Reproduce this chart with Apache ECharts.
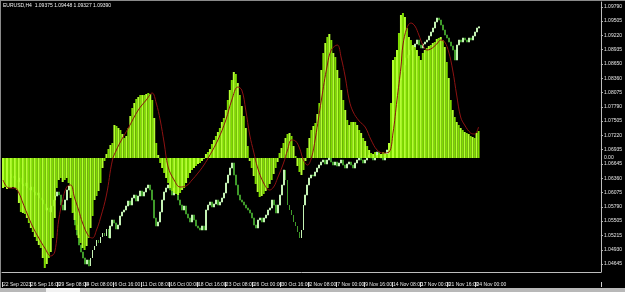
<!DOCTYPE html>
<html><head><meta charset="utf-8">
<script src="https://cdn.jsdelivr.net/npm/echarts@6/dist/echarts.min.js"></script>
<style>html,body{margin:0;padding:0;background:#000;overflow:hidden}#c{width:625px;height:292px;}</style>
</head><body><div id="c"></div>
<script>
// ---- data ----
const dateLabels = ['22 Sep 2023','26 Sep 16:00','29 Sep 08:00','4 Oct 08:00','6 Oct 16:00','11 Oct 08:00','16 Oct 00:00','18 Oct 16:00','23 Oct 08:00','26 Oct 00:00','30 Oct 16:00','2 Nov 08:00','7 Nov 00:00','9 Nov 16:00','14 Nov 08:00','17 Nov 00:00','21 Nov 16:00','24 Nov 00:00'];
const priceTicks = [1.09790,1.09505,1.09220,1.08935,1.08650,1.08360,1.08075,1.07790,1.07505,1.07220,1.06935,1.06645,1.06360,1.06075,1.05790,1.05505,1.05215,1.04930,1.04645];
const histValues = [-30,-29,-31,-30,-30,-29,-30,-32,-45,-54,-55,-56,-60,-65,-70,-74,-79,-83,-87,-90,-100,-110,-106,-100,-94,-80,-60,-30,-22,-20,-24,-22,-20,-25,-40,-55,-62,-72,-80,-85,-90,-92,-88,-80,-70,-58,-42,-38,-33,-25,-10,-3,
4,9,13,15,33,32,30,28,24,20,22,30,42,50,55,59,61,63,63,63,64,65,64,58,40,15,3,
-5,-10,-15,-20,-25,-30,-33,-35,-36,-37,-35,-32,-30,-25,-20,-15,-12,-10,-8,-6,-5,-3,-1,
4,6,9,14,18,22,26,30,36,40,48,58,68,78,86,84,75,63,52,42,30,12,-3,
-10,-18,-26,-34,-39,-38,-36,-33,-30,-26,-22,-16,-10,-4,
5,10,15,20,24,25,22,12,2,
-8,-14,-17,-12,-3,
10,20,28,32,35,44,55,88,105,115,121,124,118,105,101,88,80,68,58,48,38,33,36,36,36,33,28,25,20,17,12,8,
5,4,6,3,5,4,6,5,4,
15,55,98,101,108,125,143,145,141,130,121,118,113,111,108,102,98,105,108,110,112,113,115,116,119,120,121,118,111,96,80,58,48,41,36,33,30,28,26,25,24,22,21,20,25,27];
const signalBars = [0,3,6,8,10,12,15,18,21,24,26,28,30,32,34,36,38,40,43,45,47,49,52,55,57,59,63,68,72,75,77,79,81,83,86,89,92,95,98,101,104,108,112,115,118,120,122,124,126,128,131,134,136,138,141,143,145,147,149,151,153,155,157,160,163,165,168,170,172,174,176,179,182,185,188,191,194,196,198,200,201,203,205,207,209,211,213,215,218,220,222,224,226,228,230,232,235,237,239];
const signalValues = [-22,-30,-30,-35,-45,-55,-69,-80,-90,-98,-94,-62,-42,-29,-27,-40,-52,-65,-78,-80,-72,-60,-37,-2,8,16,30,48,58,65,55,38,15,-9,-22,-29,-28,-22,-15,-7,3,18,38,58,71,68,48,23,6,-10,-25,-32,-29,-20,-5,8,18,17,10,-2,-7,0,20,58,93,108,113,100,81,58,46,37,31,18,8,5,6,25,58,91,113,130,135,132,123,113,108,109,114,118,116,106,88,63,41,33,25,24,31];
const priceClose = [1.06485,1.06425,1.06525,1.06445,1.06365,1.06405,1.06325,1.06285,1.06365,1.06245,
1.06205,1.06265,1.06165,1.06125,1.06185,1.06085,1.06025,1.06065,1.05965,1.05925,
1.05845,1.05725,1.05765,1.05685,1.05805,1.05925,1.06005,1.06085,1.06025,1.05825,
1.05725,1.05925,1.06125,1.06205,1.06025,1.05685,1.05425,1.05225,1.05025,1.04885,
1.04765,1.04645,1.04725,1.04605,1.04765,1.04925,1.05005,1.05125,1.05065,1.05185,
1.05265,1.05205,1.05345,1.05165,1.05405,1.05525,1.05465,1.05345,1.05425,1.05605,
1.05685,1.05725,1.05805,1.05905,1.05825,1.05965,1.06025,1.05905,1.06005,1.06105,
1.06005,1.06085,1.06165,1.06225,1.06125,1.05925,1.05565,1.05405,1.05485,1.05685,
1.05925,1.06085,1.06165,1.06225,1.06125,1.06025,1.06165,1.06085,1.05925,1.05825,
1.05725,1.05805,1.05645,1.05565,1.05485,1.05625,1.05525,1.05405,1.05365,1.05325,
1.05405,1.05325,1.05725,1.05825,1.05885,1.05785,1.05845,1.05925,1.05825,1.05885,
1.05965,1.06065,1.06265,1.06425,1.06565,1.06665,1.06425,1.06225,1.06025,1.05925,
1.05885,1.05825,1.05765,1.05725,1.05665,1.05565,1.05425,1.05365,1.05525,1.05565,
1.05485,1.05565,1.05625,1.05725,1.05765,1.05925,1.05825,1.05665,1.05825,1.06025,
1.06225,1.06525,1.06325,1.05825,1.05725,1.05625,1.05485,1.05405,1.05285,1.05165,
1.05325,1.05825,1.06025,1.06225,1.06365,1.06425,1.06405,1.06485,1.06565,1.06625,
1.06685,1.06725,1.06645,1.06725,1.06765,1.06685,1.06625,1.06685,1.06605,1.06665,
1.06725,1.06625,1.06565,1.06645,1.06685,1.06625,1.06565,1.06665,1.06725,1.06765,
1.06725,1.06665,1.06725,1.06785,1.06825,1.06765,1.06725,1.06805,1.06885,1.06825,
1.06765,1.06725,1.06805,1.06925,1.07025,1.07325,1.07625,1.07925,1.08125,1.08325,
1.08485,1.08625,1.08765,1.08825,1.08925,1.09005,1.08965,1.09045,1.09125,1.09025,
1.08965,1.09045,1.09085,1.09125,1.09205,1.09285,1.09365,1.09485,1.09565,1.09525,
1.09425,1.09325,1.09225,1.09165,1.09085,1.09005,1.08925,1.08725,1.09025,1.09125,
1.09085,1.09165,1.09125,1.09085,1.09165,1.09125,1.09205,1.09285,1.09365,1.09390];
const firstOpen = 1.06470;
const priceMin = 1.04485, priceMax = 1.09885;
const oscMin = -114, oscMax = 156;
const slotCount = 301, labelEvery = 14;
const titleText = 'EURUSD,H4  1.09375 1.09448 1.09327 1.09390';

// ---- build ----
const cats = [];
for (let i = 0; i < slotCount; i++) {
  const k = i / labelEvery;
  cats.push(Number.isInteger(k) && k < dateLabels.length ? dateLabels[k] : '');
}
const histData = histValues.map((v, i) => ({value: v, itemStyle: {color: i % 2 ? '#7fdc00' : '#b4ff30'}}));
const candles = priceClose.map((c, i) => {
  const o = i === 0 ? firstOpen : priceClose[i - 1];
  return [o, c, Math.min(o, c), Math.max(o, c)];
});
const signalData = signalBars.map((b, i) => [b, signalValues[i]]);
const lastPrice = priceClose[priceClose.length - 1];
const FONT = 'Liberation Sans';
const tickFn = (idx) => cats[idx] !== '';

const chart = echarts.init(document.getElementById('c'), null, {renderer: 'canvas'});
chart.setOption({
  backgroundColor: '#000',
  animation: false,
  grid: {left: 2, right: 20, top: 2, bottom: 20, containLabel: false},
  xAxis: [{
    type: 'category', data: cats, boundaryGap: true,
    axisLine: {show: true, onZero: false, lineStyle: {color: '#bdbdbd', width: 1}},
    axisTick: {show: false},
    axisLabel: {interval: 0, color: '#e6e6e6', fontSize: 5, fontFamily: FONT, align: 'left', margin: 10}
  }, {
    type: 'category', data: cats, boundaryGap: true, position: 'bottom', offset: 10,
    axisLine: {show: false, onZero: false},
    axisTick: {show: true, interval: tickFn, length: 5, lineStyle: {color: '#cfcfcf'}},
    axisLabel: {show: false}
  }],
  yAxis: [{
    type: 'value', position: 'right', min: priceMin, max: priceMax, scale: true,
    splitLine: {show: false},
    axisLine: {show: true, onZero: false, lineStyle: {color: '#bdbdbd', width: 1}},
    axisTick: {show: true, length: 2, customValues: priceTicks, lineStyle: {color: '#bdbdbd'}},
    axisLabel: {customValues: priceTicks, formatter: v => v.toFixed(5), color: '#e6e6e6', fontSize: 5, fontFamily: FONT, margin: 3}
  }, {
    type: 'value', position: 'right', min: oscMin, max: oscMax,
    splitLine: {show: false}, axisLine: {show: false, onZero: false}, axisTick: {show: false},
    axisLabel: {customValues: [0], formatter: () => '0.00', color: '#e6e6e6', fontSize: 5, fontFamily: FONT, margin: 3}
  }],
  series: [{
    type: 'candlestick', xAxisIndex: 0, yAxisIndex: 0, data: candles, barWidth: 1.4, z: 1,
    itemStyle: {color: '#c4f2b4', color0: '#3f9a2a', borderColor: '#c4f2b4', borderColor0: '#3f9a2a', borderWidth: 1},
    markLine: {
      silent: true, symbol: 'none',
      lineStyle: {opacity: 0},
      label: {show: true, position: 'end', formatter: () => lastPrice.toFixed(5), backgroundColor: '#ffffff', color: '#000', fontSize: 5, fontFamily: FONT, padding: [1, 2], distance: 3},
      data: [{yAxis: lastPrice}]
    }
  }, {
    type: 'bar', xAxisIndex: 0, yAxisIndex: 1, data: histData, barWidth: 2, barGap: '-100%', z: 2
  }, {
    type: 'line', xAxisIndex: 0, yAxisIndex: 1, data: signalData, smooth: 0.4, symbol: 'none', z: 3,
    lineStyle: {color: '#8e1212', width: 1}
  }],
  graphic: [
    {type: 'rect', left: 0, top: 0, shape: {width: 625, height: 1}, style: {fill: '#8a8a8a'}},
    {type: 'rect', left: 0, top: 0, shape: {width: 1, height: 288}, style: {fill: '#8a8a8a'}},
    {type: 'rect', left: 0, top: 288, shape: {width: 625, height: 4}, style: {fill: '#b8b8b8'}},
    {type: 'rect', left: 46, top: 288, shape: {width: 34, height: 4}, style: {fill: '#f2f2f2'}},
    {type: 'text', left: 3, top: 3, style: {text: titleText, fill: '#f0f0f0', fontSize: 5, fontFamily: FONT}}
  ]
});
</script>
</body></html>
